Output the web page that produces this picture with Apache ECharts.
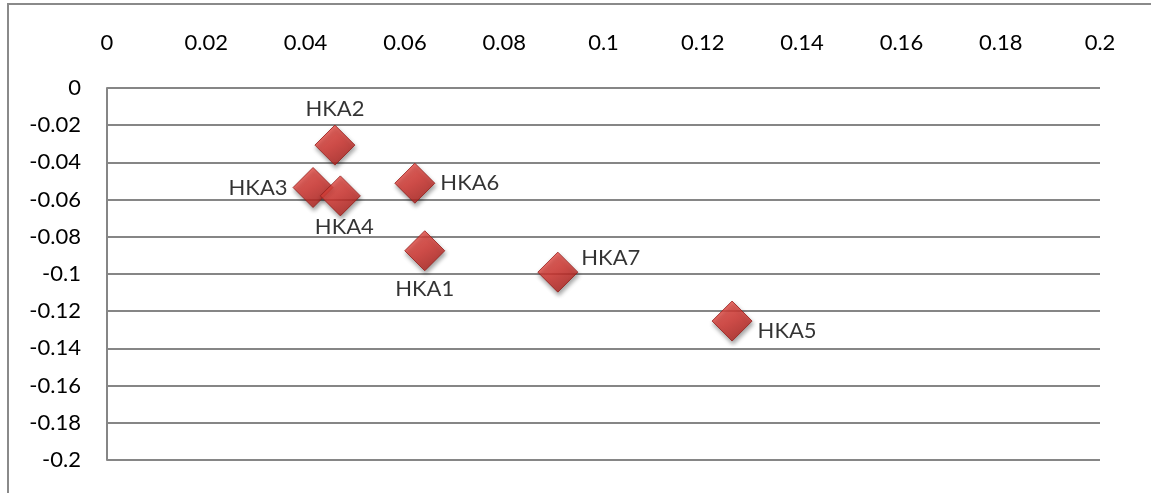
<!DOCTYPE html>
<html>
<head>
<meta charset="utf-8">
<script src="https://cdn.jsdelivr.net/npm/echarts@6/dist/echarts.min.js"></script>
<style>
  html, body { margin: 0; padding: 0; background: #fff; }
  #chart { width: 1151px; height: 493px; }
</style>
</head>
<body>
<div id="chart"></div>
<script>
// Sample names and their coordinates
const names = ['HKA1', 'HKA2', 'HKA3', 'HKA4', 'HKA5', 'HKA6', 'HKA7'];
const xValues = [0.064, 0.0459, 0.0415, 0.047, 0.1259, 0.062, 0.0908];
const yValues = [-0.0875, -0.0307, -0.0535, -0.0580, -0.1253, -0.0512, -0.0990];
// Where each name sits relative to its marker
const labelSides = ['bottom', 'top', 'left', 'bottom', 'right', 'right', 'right'];

const labelOffsets = {
  HKA1: [0, 2],
  HKA4: [4, -5],
  HKA7: [-2, -14],
  HKA5: [0, 10]
};

const points = names.map((n, i) => ({
  name: n,
  value: [xValues[i], yValues[i]],
  label: {
    position: labelSides[i],
    offset: labelOffsets[n] || [0, 0]
  }
}));

const chart = echarts.init(document.getElementById('chart'));
const font = 'Lato, "Open Sans", sans-serif';
const fontSize = 22;

chart.setOption({
  animation: false,
  backgroundColor: '#fff',
  grid: { left: 107, right: 51, top: 88, bottom: 33, containLabel: false },
  graphic: [{
    type: 'rect',
    shape: { x: 8, y: 4, width: 1300, height: 700 },
    style: { fill: 'none', stroke: '#8a8a8a', lineWidth: 2 },
    silent: true
  }],
  xAxis: {
    type: 'value',
    position: 'top',
    min: 0, max: 0.2, interval: 0.02,
    axisLine: { show: false },
    axisTick: { show: false },
    splitLine: { show: false },
    axisLabel: {
      margin: 34,
      color: '#000',
      fontSize: fontSize,
      fontFamily: font,
      formatter: v => String(+v.toFixed(2))
    }
  },
  yAxis: {
    type: 'value',
    min: -0.2, max: 0, interval: 0.02,
    axisLine: { show: true, lineStyle: { color: '#868686', width: 2 } },
    axisTick: { show: false },
    splitLine: { show: true, lineStyle: { color: '#868686', width: 2 } },
    axisLabel: {
      margin: 26,
      color: '#000',
      fontSize: fontSize,
      fontFamily: font,
      formatter: v => String(+v.toFixed(2))
    }
  },
  series: [{
    type: 'scatter',
    symbol: 'diamond',
    symbolSize: [40, 40],
    data: points,
    itemStyle: {
      color: {
        type: 'linear', x: 0.2, y: 0, x2: 0.8, y2: 1,
        colorStops: [
          { offset: 0, color: '#f0544c' },
          { offset: 0.5, color: '#d63530' },
          { offset: 1, color: '#a81e1a' }
        ]
      },
      borderColor: '#961c18',
      borderWidth: 1,
      shadowColor: 'rgba(0,0,0,0.45)',
      shadowBlur: 4,
      shadowOffsetX: 1,
      shadowOffsetY: 3
    },
    label: {
      show: true,
      formatter: p => p.name,
      color: '#000',
      fontSize: fontSize,
      fontFamily: font,
      distance: 5
    }
  }]
});
</script>
</body>
</html>
